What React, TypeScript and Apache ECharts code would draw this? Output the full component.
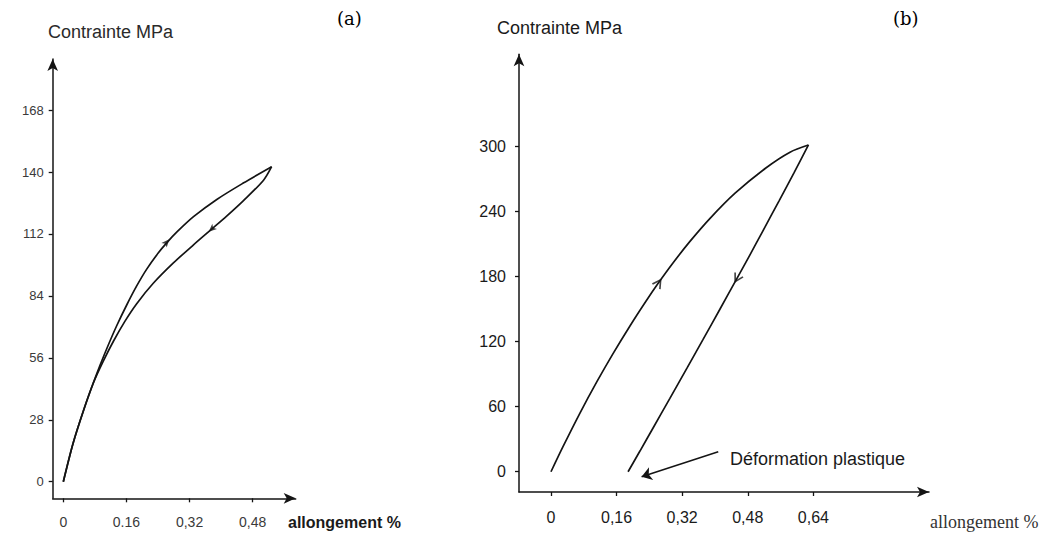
import React, { useEffect, useRef } from "react";
import * as echarts from "echarts";

// ---------- Data: panel (a) ----------
const strainTicksA = [0, 0.16, 0.32, 0.48];
const strainLabelsA = ["0", "0.16", "0,32", "0,48"];
const stressTicksA = [0, 28, 56, 84, 112, 140, 168];
const stressLabelsA = ["0", "28", "56", "84", "112", "140", "168"];

const loadA: [number, number][] = [
  [0, 0], [0.025, 17.5], [0.051, 32.1], [0.076, 44.6], [0.093, 52.6],
  [0.114, 61.8], [0.135, 70.4], [0.161, 80.0], [0.186, 88.5], [0.211, 96.0],
  [0.241, 103.5], [0.262, 108.0], [0.288, 112.9], [0.330, 119.8],
  [0.389, 127.6], [0.456, 135.0], [0.528, 142.4],
];
const unloadA: [number, number][] = [
  [0.528, 142.4], [0.507, 136.2], [0.456, 127.0], [0.414, 120.1],
  [0.376, 114.2], [0.330, 107.1], [0.279, 98.9], [0.228, 89.7],
  [0.186, 80.5], [0.156, 72.5], [0.127, 63.5], [0.101, 54.4],
  [0.076, 44.6], [0.051, 32.1], [0.025, 17.5], [0, 0],
];
const arrowUpA: [number, number][] = [[0.262, 108.3]];
const arrowDownA: [number, number][] = [[0.376, 114.2]];

// ---------- Data: panel (b) ----------
const strainTicksB = [0, 0.16, 0.32, 0.48, 0.64];
const strainLabelsB = ["0", "0,16", "0,32", "0,48", "0,64"];
const stressTicksB = [0, 60, 120, 180, 240, 300];
const stressLabelsB = ["0", "60", "120", "180", "240", "300"];

const loadB: [number, number][] = [
  [0, 0], [0.029, 22.9], [0.071, 54.4], [0.112, 83.1], [0.151, 108.8],
  [0.193, 134.8], [0.232, 157.6], [0.261, 173.7], [0.298, 192.9],
  [0.339, 212.6], [0.388, 233.9], [0.449, 257.1], [0.524, 280.4],
  [0.583, 295.0], [0.628, 301.6],
];
const unloadB: [number, number][] = [
  [0.628, 301.6], [0.593, 276.0], [0.556, 249.8], [0.517, 222.4],
  [0.485, 200.0], [0.454, 178.7], [0.412, 150.0], [0.371, 122.1],
  [0.332, 95.8], [0.290, 67.7], [0.249, 40.4], [0.217, 19.1], [0.188, 0],
];
const arrowUpB: [number, number][] = [[0.262, 174.0]];
const arrowDownB: [number, number][] = [[0.454, 178.7]];
const plasticPointer: [number, number][] = [[0.408, 18.5], [0.221, -4.6]];

const INK = "#141414";

function pick(values: number[], labels: string[]) {
  return (v: number) => {
    const i = values.findIndex((t) => Math.abs(t - v) < 1e-9);
    return i >= 0 ? labels[i] : "";
  };
}

const axisLine = {
  show: true,
  onZero: false,
  symbol: ["none", "arrow"],
  symbolSize: [8, 12],
  lineStyle: { color: INK, width: 1.5 },
};

export default function App() {
  const ref = useRef<HTMLDivElement>(null);

  useEffect(() => {
    if (!ref.current) return;
    const chart = echarts.init(ref.current, null, { renderer: "svg" });

    const tick = { show: true, length: 4, lineStyle: { color: INK, width: 1.3 } };
    const labA = { fontSize: 13, color: "#3a3a3a", fontFamily: "Liberation Sans" };
    const labB = { fontSize: 16, color: "#1a1a1a", fontFamily: "Liberation Sans" };

    const arrowFilled = "path://M5,0L10,12L5,9L0,12Z";
    const arrowOpen = "path://M0,10L5,0L10,10";
    const lineCommon = {
      type: "line",
      smooth: 0.3,
      showSymbol: false,
      silent: true,
      lineStyle: { color: INK, width: 1.7 },
    };

    chart.setOption({
      animation: false,
      backgroundColor: "#ffffff",
      grid: [
        { left: 52.7, top: 59, width: 243, height: 439.3 },
        { left: 519, top: 54.3, width: 410, height: 437.7 },
      ],
      xAxis: [
        {
          gridIndex: 0, type: "value", min: -0.0269, max: 0.589,
          axisLine, splitLine: { show: false },
          axisTick: { ...tick, customValues: strainTicksA },
          axisLabel: {
            ...labA, margin: 17, fontSize: 14,
            customValues: strainTicksA,
            formatter: pick(strainTicksA, strainLabelsA),
          },
        },
        {
          gridIndex: 1, type: "value", min: -0.078, max: 0.922,
          axisLine, splitLine: { show: false },
          axisTick: { ...tick, customValues: strainTicksB },
          axisLabel: {
            ...labB, margin: 17,
            customValues: strainTicksB,
            formatter: pick(strainTicksB, strainLabelsB),
          },
        },
      ],
      yAxis: [
        {
          gridIndex: 0, type: "value", min: -7.5, max: 191.1,
          axisLine, splitLine: { show: false },
          axisTick: { ...tick, customValues: stressTicksA },
          axisLabel: {
            ...labA, margin: 9,
            customValues: stressTicksA,
            formatter: pick(stressTicksA, stressLabelsA),
          },
        },
        {
          gridIndex: 1, type: "value", min: -18.7, max: 385.3,
          axisLine, splitLine: { show: false },
          axisTick: { ...tick, customValues: stressTicksB },
          axisLabel: {
            ...labB, margin: 13,
            customValues: stressTicksB,
            formatter: pick(stressTicksB, stressLabelsB),
          },
        },
      ],
      series: [
        { ...lineCommon, name: "a-charge", xAxisIndex: 0, yAxisIndex: 0, data: loadA },
        { ...lineCommon, name: "a-décharge", xAxisIndex: 0, yAxisIndex: 0, data: unloadA },
        {
          type: "scatter", xAxisIndex: 0, yAxisIndex: 0, data: arrowUpA,
          symbol: arrowFilled, symbolSize: [7, 8], symbolRotate: -41, silent: true,
          itemStyle: { color: INK },
        },
        {
          type: "scatter", xAxisIndex: 0, yAxisIndex: 0, data: arrowDownA,
          symbol: arrowFilled, symbolSize: [7, 8], symbolRotate: 132, silent: true,
          itemStyle: { color: INK },
        },
        { ...lineCommon, name: "b-charge", xAxisIndex: 1, yAxisIndex: 1, data: loadB },
        {
          ...lineCommon, name: "b-décharge", xAxisIndex: 1, yAxisIndex: 1, data: unloadB,
          markLine: {
            silent: true,
            symbol: ["none", "arrow"],
            symbolSize: 10,
            label: { show: false },
            lineStyle: { color: INK, width: 1.5, type: "solid" },
            data: [[{ coord: plasticPointer[0] }, { coord: plasticPointer[1] }]],
          },
        },
        {
          type: "scatter", xAxisIndex: 1, yAxisIndex: 1, data: arrowUpB,
          symbol: arrowOpen, symbolSize: [9, 8], symbolRotate: -34, silent: true,
          itemStyle: { color: "rgba(0,0,0,0)", borderColor: INK, borderWidth: 1.6 },
        },
        {
          type: "scatter", xAxisIndex: 1, yAxisIndex: 1, data: arrowDownB,
          symbol: arrowOpen, symbolSize: [9, 8], symbolRotate: 151, silent: true,
          itemStyle: { color: "rgba(0,0,0,0)", borderColor: INK, borderWidth: 1.6 },
        },
      ],
      graphic: [
        {
          type: "text", left: 48, top: 23,
          style: { text: "Contrainte MPa", fontSize: 18, fontFamily: "Liberation Sans", fill: "#2a2a2a" },
        },
        {
          type: "text", left: 497, top: 19,
          style: { text: "Contrainte MPa", fontSize: 18, fontFamily: "Liberation Sans", fill: "#1a1a1a" },
        },
        {
          type: "text", left: 337, top: 9,
          style: { text: "(a)", fontSize: 18, fontFamily: "DejaVu Serif", fill: "#000" },
        },
        {
          type: "text", left: 893, top: 9,
          style: { text: "(b)", fontSize: 18, fontFamily: "DejaVu Serif", fill: "#000" },
        },
        {
          type: "text", left: 288, top: 514,
          style: { text: "allongement %", fontSize: 16, fontWeight: "bold", fontFamily: "Liberation Sans", fill: "#1a1a1a" },
        },
        {
          type: "text", left: 930, top: 513,
          style: { text: "allongement %", fontSize: 18, fontFamily: "Liberation Serif", fill: "#333" },
        },
        {
          type: "text", left: 730, top: 450,
          style: { text: "Déformation plastique", fontSize: 18, fontFamily: "Liberation Sans", fill: "#1a1a1a" },
        },
      ],
    });

    return () => chart.dispose();
  }, []);

  return (
    <div
      ref={ref}
      style={{ position: "fixed", left: 0, top: 0, width: 1046, height: 535, background: "#fff" }}
    />
  );
}
